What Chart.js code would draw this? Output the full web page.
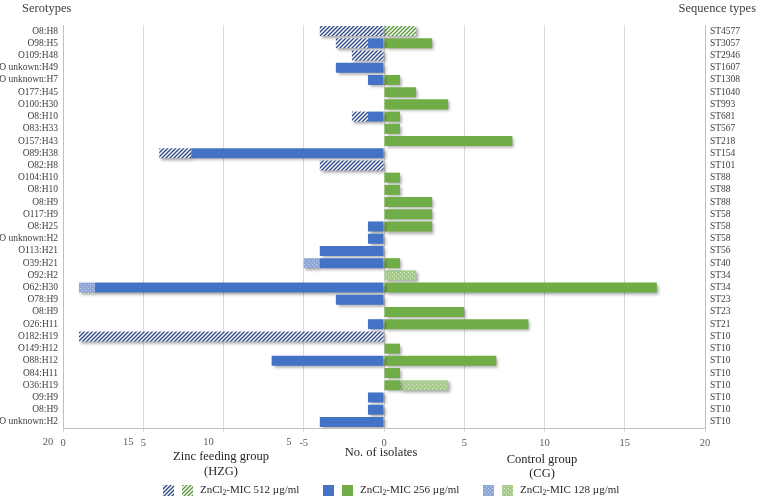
<!DOCTYPE html>
<html>
<head>
<meta charset="utf-8">
<script src="https://cdn.jsdelivr.net/npm/chart.js@4/dist/chart.umd.min.js"></script>
<style>
  body { margin: 0; background: #fff; }
  #wrap { width: 758px; height: 499px; position: relative; }
</style>
</head>
<body>
<div id="wrap"><canvas id="isolateChart"></canvas></div>
<script>
const serotypes = ["O8:H8", "O98:H5", "O109:H48", "O unkown:H49", "O unknown:H7", "O177:H45", "O100:H30",
  "O8:H10", "O83:H33", "O157:H43", "O89:H38", "O82:H8", "O104:H10", "O8:H10", "O8:H9", "O117:H9", "O8:H25",
  "O unknown:H2", "O113:H21", "O39:H21", "O92:H2", "O62:H30", "O78:H9", "O8:H9", "O26:H11", "O182:H19",
  "O149:H12", "O88:H12", "O84:H11", "O36:H19", "O9:H9", "O8:H9", "O unknown:H2"];
const sequenceTypes = ["ST4577", "ST3057", "ST2946", "ST1607", "ST1308", "ST1040", "ST993", "ST681", "ST567",
  "ST218", "ST154", "ST101", "ST88", "ST88", "ST88", "ST58", "ST58", "ST58", "ST56", "ST40", "ST34", "ST34",
  "ST23", "ST23", "ST21", "ST10", "ST10", "ST10", "ST10", "ST10", "ST10", "ST10", "ST10"];

// zinc feeding group (drawn to the left)
const hzg512 = [4, 2, 2, 0, 0, 0, 0, 1, 0, 0, 2, 4, 0, 0, 0, 0, 0, 0, 0, 0, 0, 0, 0, 0, 0, 19, 0, 0, 0, 0, 0, 0, 0];
const hzg256 = [0, 1, 0, 3, 1, 0, 0, 1, 0, 0, 12, 0, 0, 0, 0, 0, 1, 1, 4, 4, 0, 18, 3, 0, 1, 0, 0, 7, 0, 0, 1, 1, 4];
const hzg128 = [0, 0, 0, 0, 0, 0, 0, 0, 0, 0, 0, 0, 0, 0, 0, 0, 0, 0, 0, 1, 0, 1, 0, 0, 0, 0, 0, 0, 0, 0, 0, 0, 0];
// control group (drawn to the right)
const cg512 = [2, 0, 0, 0, 0, 0, 0, 0, 0, 0, 0, 0, 0, 0, 0, 0, 0, 0, 0, 0, 0, 0, 0, 0, 0, 0, 0, 0, 0, 0, 0, 0, 0];
const cg256 = [0, 3, 0, 0, 1, 2, 4, 1, 1, 8, 0, 0, 1, 1, 3, 3, 3, 0, 0, 1, 0, 17, 0, 5, 9, 0, 1, 7, 1, 1, 0, 0, 0];
const cg128 = [0, 0, 0, 0, 0, 0, 0, 0, 0, 0, 0, 0, 0, 0, 0, 0, 0, 0, 0, 0, 2, 0, 0, 0, 0, 0, 0, 0, 0, 3, 0, 0, 0];

const xTickValues = [-20, -15, -10, -5, 0, 5, 10, 15, 20];
const xTickLabels = ["0", "5", "", "-5", "0", "5", "10", "15", "20"];
const hzgTickValues = [-20, -15, -10, -5];
const hzgTickLabels = ["20", "15", "10", "5"];
const legendLabels = ["-MIC 512 µg/ml", "-MIC 256 µg/ml", "-MIC 128 µg/ml"];

const SERIF = "'Liberation Serif', 'Times New Roman', serif";
const BLUE = "#4472c4";
const GREEN = "#70ad47";

function hatch(color) {
  const c = document.createElement("canvas");
  c.width = 4; c.height = 4;
  const g = c.getContext("2d");
  g.fillStyle = "#fff";
  g.fillRect(0, 0, 4, 4);
  g.strokeStyle = color;
  g.lineWidth = 1.4;
  g.beginPath();
  g.moveTo(0, 4); g.lineTo(4, 0);
  g.moveTo(-1, 1); g.lineTo(1, -1);
  g.moveTo(3, 5); g.lineTo(5, 3);
  g.stroke();
  return g.createPattern(c, "repeat");
}

function dots(base, dot) {
  const c = document.createElement("canvas");
  c.width = 4; c.height = 4;
  const g = c.getContext("2d");
  g.fillStyle = base;
  g.fillRect(0, 0, 4, 4);
  g.fillStyle = dot;
  g.fillRect(0, 0, 1, 1);
  g.fillRect(2, 2, 1, 1);
  return g.createPattern(c, "repeat");
}

const fills = {
  blue512: hatch("#2f4b8c"),
  green512: hatch("#5b9a3a"),
  blue256: BLUE,
  green256: GREEN,
  blue128: dots("#8ea6d8", "#c9d5ee"),
  green128: dots("#a6cc8c", "#d3e8c6")
};

const left = (arr) => arr.map((v) => (v ? -v : null));
const right = (arr) => arr.map((v) => (v ? v : null));

function bar(label, data, fill) {
  return { label, data, backgroundColor: fill, stack: "all", barPercentage: 0.82, categoryPercentage: 1 };
}

function drawZnLabel(ctx, x, y, rest) {
  ctx.font = "11px " + SERIF;
  ctx.textAlign = "left";
  ctx.fillText("ZnCl", x, y);
  let w = ctx.measureText("ZnCl").width;
  ctx.font = "7.5px " + SERIF;
  ctx.fillText("2", x + w, y + 3);
  w += ctx.measureText("2").width;
  ctx.font = "11px " + SERIF;
  ctx.fillText(rest, x + w, y);
}

const extras = {
  id: "extras",
  beforeDatasetsDraw(chart) {
    const ctx = chart.ctx;
    ctx.save();
    ctx.shadowColor = "rgba(0,0,0,0.35)";
    ctx.shadowBlur = 3;
    ctx.shadowOffsetX = 2;
    ctx.shadowOffsetY = 2;
  },
  afterDatasetsDraw(chart) {
    chart.ctx.restore();
  },
  afterDraw(chart) {
    const ctx = chart.ctx;
    const x = chart.scales.x;
    ctx.save();
    ctx.fillStyle = "#404040";
    ctx.textBaseline = "middle";

    ctx.font = "12.5px " + SERIF;
    ctx.textAlign = "left";
    ctx.fillText("Serotypes", 22, 9);
    ctx.textAlign = "right";
    ctx.fillText("Sequence types", 756, 9);

    ctx.font = "10.5px " + SERIF;
    ctx.textAlign = "center";
    ctx.fillStyle = "#595959";
    hzgTickValues.forEach((v, i) => {
      ctx.fillText(hzgTickLabels[i], x.getPixelForValue(v) - 15, 442);
    });

    ctx.fillStyle = "#262626";
    ctx.font = "12.5px " + SERIF;
    ctx.fillText("No. of isolates", 381, 453);
    ctx.fillText("Zinc feeding group", 221, 457);
    ctx.fillText("(HZG)", 221, 472);
    ctx.fillText("Control group", 542, 460);
    ctx.fillText("(CG)", 542, 474);

    const items = [
      { a: fills.blue512, b: fills.green512, x: 163 },
      { a: fills.blue256, b: fills.green256, x: 323 },
      { a: fills.blue128, b: fills.green128, x: 483 }
    ];
    items.forEach((it, i) => {
      ctx.fillStyle = it.a;
      ctx.fillRect(it.x, 485, 11, 11);
      ctx.fillStyle = it.b;
      ctx.fillRect(it.x + 19, 485, 11, 11);
      ctx.fillStyle = "#262626";
      drawZnLabel(ctx, it.x + 37, 490, legendLabels[i]);
    });
    ctx.restore();
  }
};

new Chart(document.getElementById("isolateChart").getContext("2d"), {
  type: "bar",
  data: {
    labels: serotypes,
    datasets: [
      bar("HZG 256", left(hzg256), fills.blue256),
      bar("HZG 512", left(hzg512), fills.blue512),
      bar("HZG 128", left(hzg128), fills.blue128),
      bar("CG 256", right(cg256), fills.green256),
      bar("CG 512", right(cg512), fills.green512),
      bar("CG 128", right(cg128), fills.green128)
    ]
  },
  options: {
    indexAxis: "y",
    responsive: true,
    maintainAspectRatio: false,
    animation: false,
    layout: { padding: { top: 25, left: 0, right: 0, bottom: 0 } },
    plugins: { legend: { display: false }, tooltip: { enabled: false } },
    scales: {
      x: {
        type: "linear",
        min: -20,
        max: 20,
        stacked: true,
        afterFit: (scale) => { scale.height = 71; },
        grid: { color: "#d9d9d9", tickLength: 4 },
        border: { color: "#bfbfbf" },
        ticks: {
          stepSize: 5,
          padding: 5,
          color: "#595959",
          font: { family: SERIF, size: 10.5 },
          callback: (value) => {
            const i = xTickValues.indexOf(value);
            return i >= 0 ? xTickLabels[i] : "";
          }
        }
      },
      y: {
        stacked: true,
        offset: true,
        afterFit: (scale) => { scale.width = 63; },
        grid: { display: false, drawTicks: false },
        border: { display: true, color: "#bfbfbf" },
        ticks: { autoSkip: false, padding: 5, color: "#404040", font: { family: SERIF, size: 9.5 } }
      },
      y2: {
        type: "category",
        position: "right",
        labels: sequenceTypes,
        offset: true,
        afterFit: (scale) => { scale.width = 53; },
        grid: { display: false, drawTicks: false },
        border: { display: true, color: "#bfbfbf" },
        ticks: { autoSkip: false, padding: 5, color: "#404040", font: { family: SERIF, size: 9.5 } }
      }
    }
  },
  plugins: [extras]
});
</script>
</body>
</html>
